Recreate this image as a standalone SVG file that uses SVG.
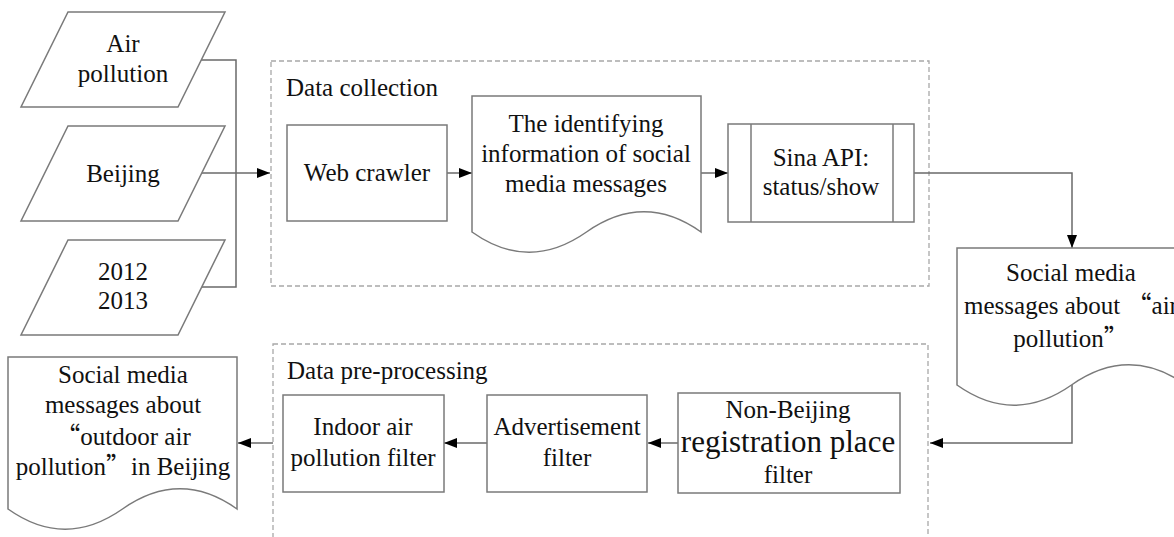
<svg xmlns="http://www.w3.org/2000/svg" width="1174" height="537" viewBox="0 0 1174 537">
<defs>
<marker id="arr" markerUnits="userSpaceOnUse" markerWidth="14" markerHeight="12" refX="13" refY="6" orient="auto">
<path d="M0,1 L13,6 L0,11 Z" fill="#000"/>
</marker>
<style>
.shape{fill:#fff;stroke:#7a7a7a;stroke-width:1.5}
.group{fill:none;stroke:#a8a8a8;stroke-width:1.3;stroke-dasharray:5 3}
.conn{fill:none;stroke:#6a6a6a;stroke-width:1.5}
text{font-family:"Liberation Serif","Times New Roman",serif;font-size:25px;fill:#111}
.c{text-anchor:middle}
.q{font-family:"Noto Sans CJK SC","Liberation Serif",serif}
</style>
</defs>
<rect width="1174" height="537" fill="#fff"/>

<g id="group-collection">
<rect class="group" x="271" y="61" width="658" height="225"/>
<text x="286" y="96">Data collection</text>
</g>
<g id="group-preprocessing">
<rect class="group" x="273" y="344" width="655" height="230"/>
<text x="287" y="379">Data pre-processing</text>
</g>

<g id="connectors">
<path class="conn" d="M201,60 H236 V287 H202"/>
<path class="conn" d="M201,173 H270" marker-end="url(#arr)"/>
<path class="conn" d="M447,173 H472" marker-end="url(#arr)"/>
<path class="conn" d="M701,173 H728" marker-end="url(#arr)"/>
<path class="conn" d="M914,173 H1072 V248" marker-end="url(#arr)"/>
<path class="conn" d="M1072,385 V443 H930" marker-end="url(#arr)"/>
<path class="conn" d="M678,443 H648" marker-end="url(#arr)"/>
<path class="conn" d="M487,443 H444" marker-end="url(#arr)"/>
<path class="conn" d="M273,443 H238" marker-end="url(#arr)"/>
</g>

<g id="input-air-pollution">
<polygon class="shape" points="68,12 225,12 178,107 21,107"/>
<text class="c" x="123" y="52">Air</text>
<text class="c" x="123" y="82">pollution</text>
</g>
<g id="input-beijing">
<polygon class="shape" points="68,126 225,126 178,221 21,221"/>
<text class="c" x="123" y="182">Beijing</text>
</g>
<g id="input-years">
<polygon class="shape" points="68,240 225,240 178,335 21,335"/>
<text class="c" x="123" y="280">2012</text>
<text class="c" x="123" y="309">2013</text>
</g>

<g id="web-crawler">
<rect class="shape" x="287" y="125" width="160" height="96"/>
<text class="c" x="367" y="181">Web crawler</text>
</g>

<g id="identifying-info">
<path class="shape" d="M472,96 H701 V232 C663,205 625,205 586.5,232 C548,259 510,259 472,232 Z"/>
<text class="c" x="586" y="132">The identifying</text>
<text class="c" x="586" y="162">information of social</text>
<text class="c" x="586" y="192">media messages</text>
</g>

<g id="sina-api">
<rect class="shape" x="728" y="124" width="186" height="98"/>
<line class="shape" x1="751" y1="124" x2="751" y2="222"/>
<line class="shape" x1="893" y1="124" x2="893" y2="222"/>
<text class="c" x="821" y="166">Sina API:</text>
<text class="c" x="821" y="195">status/show</text>
</g>

<g id="messages-air-pollution">
<path class="shape" d="M957,248 H1186 V385 C1148,358 1110,358 1071.5,385 C1033,412 995,412 957,385 Z"/>
<text class="c" x="1071" y="281">Social media</text>
<text class="c" x="1071" y="314">messages about <tspan class="q">“</tspan>air</text>
<text class="c" x="1071" y="347">pollution<tspan class="q">”</tspan></text>
</g>

<g id="non-beijing-filter">
<rect class="shape" x="678" y="393" width="222" height="100"/>
<text class="c" x="788" y="418">Non-Beijing</text>
<text class="c" x="788" y="452" style="font-size:31px">registration place</text>
<text class="c" x="788" y="483">filter</text>
</g>

<g id="advertisement-filter">
<rect class="shape" x="487" y="395" width="160" height="97"/>
<text class="c" x="567" y="435">Advertisement</text>
<text class="c" x="567" y="466">filter</text>
</g>

<g id="indoor-filter">
<rect class="shape" x="283" y="395" width="161" height="97"/>
<text class="c" x="363" y="435">Indoor air</text>
<text class="c" x="363" y="466">pollution filter</text>
</g>

<g id="outdoor-messages">
<path class="shape" d="M8,357 H237 V509 C199,482 161,482 122.5,509 C84,536 46,536 8,509 Z"/>
<text class="c" x="123" y="383">Social media</text>
<text class="c" x="123" y="413">messages about</text>
<text class="c" x="123" y="445"><tspan class="q">“</tspan>outdoor air</text>
<text class="c" x="123" y="475">pollution<tspan class="q">”</tspan>in Beijing</text>
</g>
</svg>
